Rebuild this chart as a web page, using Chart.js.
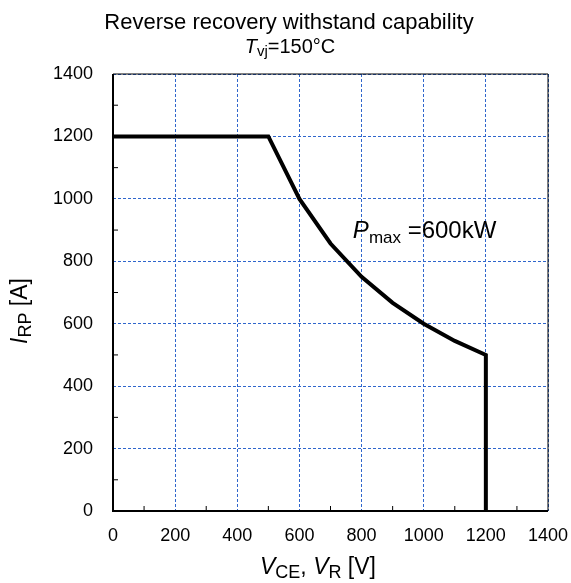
<!DOCTYPE html>
<html>
<head>
<meta charset="utf-8">
<script src="https://cdn.jsdelivr.net/npm/chart.js@4"></script>
<style>
  html, body { margin: 0; padding: 0; background: #fff; }
  #wrap { width: 571px; height: 583px; }
</style>
</head>
<body>
<div id="wrap"><canvas id="chart" width="571" height="583"></canvas></div>
<script>
// curve: P = 600 kW limit
const voltage = [0, 500, 600, 700, 800, 900, 1000, 1100, 1200, 1200]
const current = [1200, 1200, 1000, 857, 750, 667, 600, 545, 500, 0]
const xTicks = [0, 200, 400, 600, 800, 1000, 1200, 1400]
const yTicks = [0, 200, 400, 600, 800, 1000, 1200, 1400]
const annotation = {x: 772, y: 875}

const FONT = '"Liberation Sans", Arial, sans-serif'
const GRID = '#2f66cc'

// draws text made of segments, some italic, some subscript
function richText(ctx, parts, x, y, align) {
    let total = 0
    for (const p of parts) {
        ctx.font = (p.italic ? 'italic ' : '') + p.size + 'px ' + FONT
        p.w = ctx.measureText(p.text).width
        total += p.w
    }
    let cx = align === 'center' ? x - total / 2 : x
    for (const p of parts) {
        ctx.font = (p.italic ? 'italic ' : '') + p.size + 'px ' + FONT
        ctx.fillText(p.text, cx, y + (p.sub ? p.sub : 0))
        cx += p.w
    }
}

const decorations = {
    id: 'decorations',
    beforeDatasetsDraw(chart) {
        const {ctx, chartArea: a, scales} = chart
        ctx.save()
        // frame
        ctx.strokeStyle = '#000'
        ctx.lineWidth = 1
        ctx.beginPath()
        ctx.moveTo(a.left, a.top)
        ctx.lineTo(a.right, a.top)
        ctx.lineTo(a.right, a.bottom)
        ctx.stroke()
        ctx.lineWidth = 2
        ctx.beginPath()
        ctx.moveTo(a.left, a.top)
        ctx.lineTo(a.left, a.bottom)
        ctx.lineTo(a.right, a.bottom)
        ctx.stroke()
        // minor ticks inward
        ctx.lineWidth = 1
        ctx.beginPath()
        for (let v = 100; v < 1400; v += 200) {
            const px = scales.x.getPixelForValue(v)
            ctx.moveTo(px, a.bottom)
            ctx.lineTo(px, a.bottom - 5)
            const py = scales.y.getPixelForValue(v)
            ctx.moveTo(a.left, py)
            ctx.lineTo(a.left + 5, py)
        }
        ctx.stroke()
        ctx.restore()
    },
    afterDraw(chart) {
        const {ctx, scales} = chart
        ctx.save()
        ctx.fillStyle = '#000'
        ctx.textBaseline = 'alphabetic'
        richText(ctx, [{text: 'Reverse recovery withstand capability', size: 22}], 289, 29, 'center')
        richText(ctx, [
            {text: 'T', size: 20, italic: true},
            {text: 'vj', size: 15, sub: 3},
            {text: '=150°C', size: 20}
        ], 290, 53, 'center')
        richText(ctx, [
            {text: 'V', size: 23, italic: true},
            {text: 'CE', size: 18, sub: 4},
            {text: ', ', size: 23},
            {text: 'V', size: 23, italic: true},
            {text: 'R', size: 18, sub: 4},
            {text: ' [V]', size: 23}
        ], 318, 574, 'center')
        ctx.save()
        ctx.translate(27, 311)
        ctx.rotate(-Math.PI / 2)
        richText(ctx, [
            {text: 'I', size: 23, italic: true},
            {text: 'RP', size: 18, sub: 4},
            {text: ' [A]', size: 23}
        ], 0, 0, 'center')
        ctx.restore()
        const ax = scales.x.getPixelForValue(annotation.x)
        const ay = scales.y.getPixelForValue(annotation.y)
        richText(ctx, [
            {text: 'P', size: 24, italic: true},
            {text: 'max', size: 17, sub: 5},
            {text: ' =600kW', size: 24}
        ], ax, ay, 'left')
        ctx.restore()
    }
}

const tickFont = {family: FONT, size: 18}

new Chart(document.getElementById('chart'), {
    type: 'line',
    data: {
        datasets: [{
            data: voltage.map((v, i) => ({x: v, y: current[i]})),
            borderColor: '#000',
            borderWidth: 4,
            pointRadius: 0,
            tension: 0,
            fill: false
        }]
    },
    options: {
        animation: false,
        responsive: false,
        devicePixelRatio: 1,
        layout: {padding: {left: 0, top: 74, right: 23, bottom: 0}},
        plugins: {legend: {display: false}, tooltip: {enabled: false}},
        scales: {
            x: {
                type: 'linear',
                min: 0,
                max: 1400,
                afterBuildTicks: s => { s.ticks = xTicks.map(v => ({value: v})) },
                afterFit: s => {
                    s.height = 72
                    s.paddingLeft = 0
                    s.paddingRight = 0
                },
                ticks: {font: tickFont, color: '#000', padding: 14, maxRotation: 0, callback: v => String(v)},
                grid: {
                    color: c => (c.tick.value === 0 ? 'rgba(0,0,0,0)' : GRID),
                    lineWidth: 1,
                    drawTicks: false
                },
                border: {display: false, dash: [3, 2]}
            },
            y: {
                type: 'linear',
                min: 0,
                max: 1400,
                afterBuildTicks: s => { s.ticks = yTicks.map(v => ({value: v})) },
                afterFit: s => {
                    s.width = 113
                    s.paddingTop = 0
                    s.paddingBottom = 0
                },
                ticks: {font: tickFont, color: '#000', padding: 20, callback: v => String(v)},
                grid: {
                    color: c => (c.tick.value === 0 ? 'rgba(0,0,0,0)' : GRID),
                    lineWidth: 1,
                    drawTicks: false
                },
                border: {display: false, dash: [3, 2]}
            }
        }
    },
    plugins: [decorations]
})
</script>
</body>
</html>
